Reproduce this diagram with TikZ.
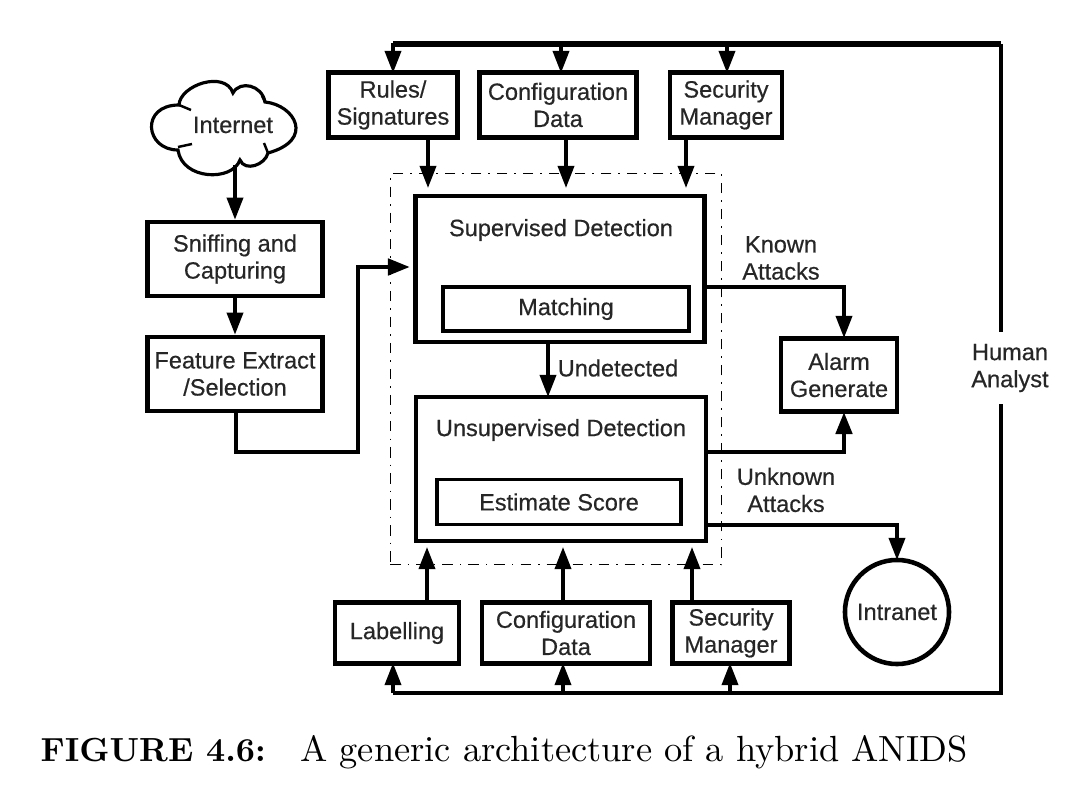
\documentclass[tikz,border=0pt]{standalone}
\usepackage{fontspec}
\newfontfamily\diagfont[FakeBold=0.5]{Liberation Sans}
\usetikzlibrary{arrows.meta}
\tikzset{
  box/.style={draw,line width=1.3pt,align=center,inner sep=0pt,font=\diagfont\fontsize{6.7}{7.7}\selectfont,text=black!85},
  inbox/.style={box,line width=1.1pt},
  lbl/.style={align=center,inner sep=0pt,font=\diagfont\fontsize{6.7}{7.7}\selectfont,text=black!85},
  arr/.style={line width=1pt,-{Triangle[length=2.2mm,width=1.6mm]}}
}
\begin{document}
\begin{tikzpicture}[x=.01cm,y=-.01cm]
\useasboundingbox (0,0) rectangle (1066,788);
% inputs on the left
\draw[line width=.9pt] (179,105) .. controls (180,85) and (225,70) .. (233,93)
  .. controls (240,80) and (262,85) .. (265,102)
  .. controls (295,105) and (315,140) .. (268,153)
  .. controls (265,165) and (245,172) .. (240,160)
  .. controls (232,182) and (182,180) .. (178,150)
  .. controls (145,150) and (140,105) .. cycle;
\draw[line width=.7pt] (179,105) -- (191,110) (178,147) -- (192,144) (265,102) -- (262,96) (268,153) -- (264,143);
\node[lbl] (internet) at (233,125) {Internet};
\node[box,minimum width=1.75cm,minimum height=.74cm] (sniff) at (235,259) {Sniffing and\\Capturing};
\node[box,minimum width=1.75cm,minimum height=.74cm] (feature) at (235,374) {Feature Extract\\/Selection};
% top row
\node[box,minimum width=1.29cm,minimum height=.65cm] (rules) at (393,105) {Rules/\\Signatures};
\node[box,minimum width=1.57cm,minimum height=.65cm] (confa) at (558,105) {Configuration\\Data};
\node[box,minimum width=1.12cm,minimum height=.65cm] (secura) at (726,105) {Security\\Manager};
% detection
\node[draw,line width=.4pt,dash dot,minimum width=3.31cm,minimum height=3.91cm] (hybrid) at (556,369) {};
\node[box,minimum width=2.89cm,minimum height=1.46cm] (super) at (560,269) {};
\node[lbl] (supertxt) at (561,230) {Supervised Detection};
\node[inbox,minimum width=2.45cm,minimum height=.44cm] (match) at (566,309) {Matching};
\node[box,minimum width=2.9cm,minimum height=1.44cm] (unsuper) at (561,469) {};
\node[lbl] (unsupertxt) at (561,430) {Unsupervised Detection};
\node[inbox,minimum width=2.44cm,minimum height=.45cm] (score) at (559,502) {Estimate Score};
% outputs
\node[box,minimum width=1.16cm,minimum height=.73cm] (alarm) at (839,375) {Alarm\\Generate};
\node[box,circle,minimum size=1.04cm] (intranet) at (897,612) {Intranet};
% bottom row
\node[box,minimum width=1.24cm,minimum height=.61cm] (label) at (397,633) {Labelling};
\node[box,minimum width=1.68cm,minimum height=.61cm] (confb) at (566,633) {Configuration\\Data};
\node[box,minimum width=1.17cm,minimum height=.61cm] (securb) at (731,633) {Security\\Manager};
% labels
\node[lbl] (known) at (781,258) {Known\\Attacks};
\node[lbl] (undet) at (618,368) {Undetected};
\node[lbl] (unknown) at (786,490) {Unknown\\Attacks};
% caption
\node[inner sep=0pt,anchor=west,font=\fontsize{10.35}{12}\selectfont] (caption) at (40,752) {\textbf{\fontsize{9.5}{12}\selectfont FIGURE 4.6:}\hspace{9.8pt}A generic architecture of a hybrid ANIDS};
% free ends
\coordinate (ne) at (1001,44);
\coordinate (se) at (1001,693);
\coordinate (ina) at (428,188);
\coordinate (inb) at (566,188);
\coordinate (inc) at (686,188);
\coordinate (ind) at (427,547);
\coordinate (ine) at (563,547);
\coordinate (inf) at (692,547);
\coordinate (merge) at (410,267);
\coordinate (low) at (358,452);
% left chain
\draw[arr] (235,165) -- (sniff.north);
\draw[arr] (sniff) -- (feature);
\draw[arr,line width=1.3pt] (236,411) |- (low) |- (merge);
% feedback
\draw[line width=1.6pt] (393,44) -- (ne);
\draw[line width=1pt] (ne) -- (se) -- (393,693);
\foreach \src/\dst in {393/rules,561/confa,727/secura}
  \draw[arr] (\src,43) -- (\src,73);
\foreach \src/\dst in {393/label,563/confb,730/securb}
  \draw[arr] (\src,693) -- (\src,663);
\node[lbl,fill=white,inner xsep=1pt,inner ysep=3.5pt] (human) at (1010,368) {Human\\Analyst};
% into detection
\draw[arr] (ina |- rules.south) -- (ina);
\draw[arr] (inb |- confa.south) -- (inb);
\draw[arr] (inc |- secura.south) -- (inc);
\draw[arr] (ind |- label.north) -- (ind);
\draw[arr] (ine |- confb.north) -- (ine);
\draw[arr] (inf |- securb.north) -- (inf);
\draw[arr] (548,342) -- (548,397);
% out of detection
\draw[arr] (705,287) -| (844,338);
\draw[arr,line width=1.3pt] (706,452) -| (844,412);
\draw[arr] (706,525) -| (897,560);
\end{tikzpicture}
\end{document}
